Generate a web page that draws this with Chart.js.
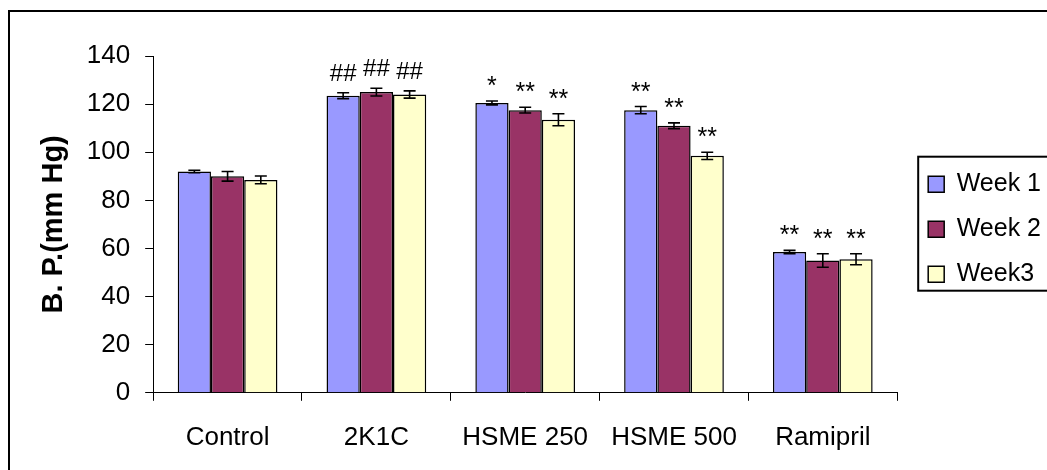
<!DOCTYPE html>
<html lang="en">
<head>
    <meta charset="UTF-8">
    <script src="https://cdn.jsdelivr.net/npm/chart.js"></script>
    <title>B. P. chart</title>
    <style>
        body {
            margin: 0;
            overflow: hidden;
            background: #fff;
        }
        .frame {
            position: absolute;
            left: 8px;
            top: 10px;
            width: 1100px;
            height: 500px;
            border-left: 2px solid #000;
            border-top: 2px solid #000;
        }
        #bpChart {
            display: block;
        }
    </style>
</head>
<body>
    <div class="frame">
        <canvas id="bpChart" width="1071" height="462"></canvas>
    </div>
    <script>
        const groups = ['Control', '2K1C', 'HSME 250', 'HSME 500', 'Ramipril'];
        const seriesNames = ['Week 1', 'Week 2', 'Week3'];
        const week1 = [92, 123.5, 120.5, 117.5, 58.5];
        const week2 = [90, 125, 117.5, 111, 55];
        const week3 = [88.5, 124, 113.5, 98.5, 55.5];
        const week1Err = [0.5, 1.2, 0.8, 1.5, 0.7];
        const week2Err = [2, 1.6, 1.2, 1.2, 2.8];
        const week3Err = [1.6, 1.5, 2.5, 1.5, 2.3];
        const week1Marks = ['', '##', '*', '**', '**'];
        const week2Marks = ['', '##', '**', '**', '**'];
        const week3Marks = ['', '##', '**', '**', '**'];
        const yTicks = [0, 20, 40, 60, 80, 100, 120, 140];

        const FONT = "'Liberation Sans', Arial, sans-serif";
        const errors = [week1Err, week2Err, week3Err];
        const marks = [week1Marks, week2Marks, week3Marks];

        // error bars + significance marks
        const errorBars = {
            id: 'errorBars',
            afterDatasetsDraw(chart) {
                const c = chart.ctx;
                const y = chart.scales.y;
                c.save();
                c.strokeStyle = '#000';
                c.lineWidth = 1.6;
                c.fillStyle = '#000';
                c.textAlign = 'center';
                c.textBaseline = 'alphabetic';
                chart.data.datasets.forEach(function (ds, i) {
                    const meta = chart.getDatasetMeta(i);
                    meta.data.forEach(function (bar, j) {
                        const v = ds.data[j];
                        const e = errors[i][j];
                        const top = y.getPixelForValue(v + e);
                        const bot = y.getPixelForValue(v - e);
                        c.beginPath();
                        c.moveTo(bar.x, top);
                        c.lineTo(bar.x, bot);
                        c.moveTo(bar.x - 6, top);
                        c.lineTo(bar.x + 6, top);
                        c.moveTo(bar.x - 6, bot);
                        c.lineTo(bar.x + 6, bot);
                        c.stroke();
                        const m = marks[i][j];
                        if (m) {
                            c.font = (m.indexOf('#') >= 0 ? '24px ' : '25px ') + FONT;
                            c.fillText(m, bar.x, top - (m.indexOf('#') >= 0 ? 12 : 7));
                        }
                    });
                });
                c.restore();
            }
        };

        // box round the legend
        const legendBox = {
            id: 'legendBox',
            afterDraw(chart) {
                const lg = chart.legend;
                if (!lg || !lg.legendHitBoxes.length) return;
                const hb = lg.legendHitBoxes;
                const last = hb[hb.length - 1];
                const c = chart.ctx;
                c.save();
                c.strokeStyle = '#000';
                c.lineWidth = 2;
                const left = lg.left + 10;
                const top = hb[0].top - 15;
                const bottom = last.top + last.height + 4;
                c.strokeRect(left, top, chart.width + 20 - left, bottom - top);
                c.restore();
            }
        };

        const ctxBp = document.getElementById('bpChart').getContext('2d');
        const bpChart = new Chart(ctxBp, {
            type: 'bar',
            data: {
                labels: groups,
                datasets: [{
                    label: seriesNames[0],
                    data: week1,
                    backgroundColor: '#9999FF',
                    borderColor: '#000',
                    borderWidth: 1.5
                }, {
                    label: seriesNames[1],
                    data: week2,
                    backgroundColor: '#993366',
                    borderColor: '#000',
                    borderWidth: 1.5
                }, {
                    label: seriesNames[2],
                    data: week3,
                    backgroundColor: '#FFFFCC',
                    borderColor: '#000',
                    borderWidth: 1.5
                }]
            },
            options: {
                responsive: false,
                animation: false,
                categoryPercentage: 0.67,
                barPercentage: 1.0,
                layout: {
                    padding: { left: 23, top: 44, right: 30, bottom: 0 }
                },
                plugins: {
                    tooltip: { enabled: false },
                    legend: {
                        position: 'right',
                        fullSize: false,
                        title: {
                            display: true,
                            text: ' ',
                            padding: 0,
                            font: { family: FONT, size: 8 }
                        },
                        labels: {
                            boxWidth: 16,
                            boxHeight: 16,
                            padding: 20,
                            color: '#000',
                            font: { family: FONT, size: 25 }
                        }
                    }
                },
                scales: {
                    x: {
                        grid: {
                            display: true,
                            drawOnChartArea: false,
                            drawTicks: true,
                            tickLength: 8,
                            tickColor: '#000',
                            offset: true
                        },
                        border: { display: true, color: '#000', width: 1 },
                        ticks: {
                            color: '#000',
                            padding: 21,
                            font: { family: FONT, size: 26 }
                        }
                    },
                    y: {
                        min: 0,
                        max: 140,
                        afterBuildTicks: function (scale) {
                            scale.ticks = yTicks.map(v => ({ value: v }));
                        },
                        grid: {
                            display: true,
                            drawOnChartArea: false,
                            drawTicks: true,
                            tickLength: 8,
                            tickColor: '#000'
                        },
                        border: { display: true, color: '#000', width: 1 },
                        ticks: {
                            color: '#000',
                            padding: 15,
                            font: { family: FONT, size: 26 }
                        },
                        title: {
                            display: true,
                            text: 'B. P.(mm Hg)',
                            color: '#000',
                            padding: { top: 4, bottom: 0 },
                            font: { family: FONT, size: 29, weight: 'bold' }
                        }
                    },
                    gap: {
                        type: 'linear',
                        position: 'right',
                        display: true,
                        grid: { display: false },
                        border: { display: false },
                        ticks: { display: false },
                        afterFit: function (scale) {
                            scale.width = 11;
                        }
                    }
                }
            },
            plugins: [errorBars, legendBox]
        });
    </script>
</body>
</html>
